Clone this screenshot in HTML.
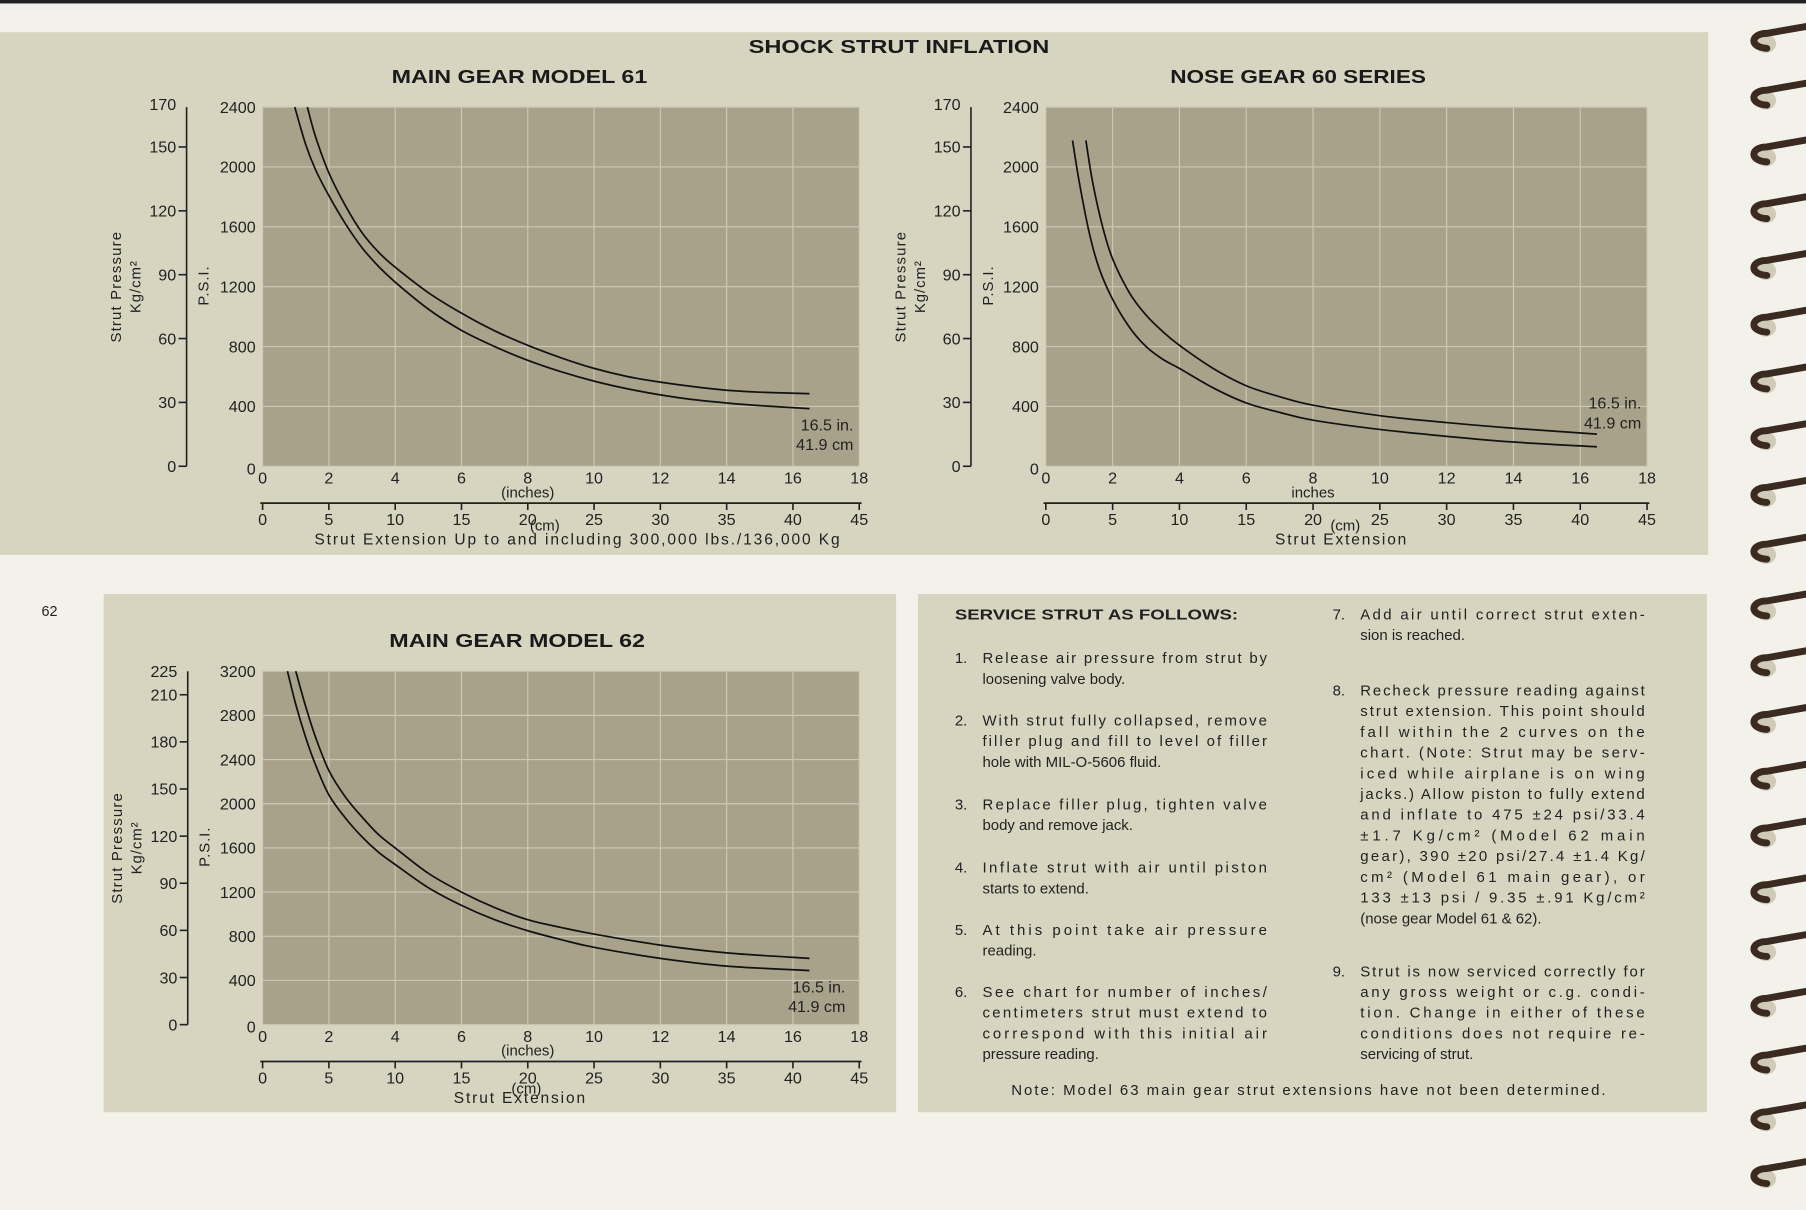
<!DOCTYPE html>
<html><head><meta charset="utf-8"><style>
html,body{margin:0;padding:0;background:#f2f1ea;}
svg{display:block;font-family:"Liberation Sans",sans-serif;}
</style></head><body>
<svg id="s" width="1806" height="1210" viewBox="0 0 1568 1051" preserveAspectRatio="none">
<rect x="0" y="0" width="1568" height="1051" fill="#f2f1ea"/>
<rect x="0" y="0" width="1568" height="3" fill="#222"/>
<rect x="0" y="28" width="1483" height="454" fill="#d7d4c0"/>
<rect x="90" y="516" width="688" height="450" fill="#d7d4c0"/>
<rect x="797" y="516" width="685" height="450" fill="#d7d4c0"/>
<text x="650" y="46" textLength="261" lengthAdjust="spacingAndGlyphs" font-size="16" font-weight="bold" fill="#1a1a1a">SHOCK STRUT INFLATION</text>
<text x="36" y="535" font-size="12.5" fill="#222">62</text>
<g id="charts"></g>
<g id="rings"></g>
<g font-size="13" fill="#222">
<text x="829" y="538" font-weight="bold" textLength="246" lengthAdjust="spacingAndGlyphs">SERVICE STRUT AS FOLLOWS:</text>
<text x="829" y="576">1.</text><text x="853" y="576" textLength="247" lengthAdjust="spacing">Release air pressure from strut by</text><text x="853" y="594">loosening valve body.</text>
<text x="829" y="630">2.</text><text x="853" y="630" textLength="247" lengthAdjust="spacing">With strut fully collapsed, remove</text><text x="853" y="648" textLength="247" lengthAdjust="spacing">filler plug and fill to level of filler</text><text x="853" y="666">hole with MIL-O-5606 fluid.</text>
<text x="829" y="703">3.</text><text x="853" y="703" textLength="247" lengthAdjust="spacing">Replace filler plug, tighten valve</text><text x="853" y="721">body and remove jack.</text>
<text x="829" y="758">4.</text><text x="853" y="758" textLength="247" lengthAdjust="spacing">Inflate strut with air until piston</text><text x="853" y="776">starts to extend.</text>
<text x="829" y="812">5.</text><text x="853" y="812" textLength="247" lengthAdjust="spacing">At this point take air pressure</text><text x="853" y="830">reading.</text>
<text x="829" y="866">6.</text><text x="853" y="866" textLength="247" lengthAdjust="spacing">See chart for number of inches/</text><text x="853" y="884" textLength="247" lengthAdjust="spacing">centimeters strut must extend to</text><text x="853" y="902" textLength="247" lengthAdjust="spacing">correspond with this initial air</text><text x="853" y="920">pressure reading.</text>
<text x="1157" y="538">7.</text><text x="1181" y="538" textLength="247" lengthAdjust="spacing">Add air until correct strut exten-</text><text x="1181" y="556">sion is reached.</text>
<text x="1157" y="604">8.</text><text x="1181" y="604" textLength="247" lengthAdjust="spacing">Recheck pressure reading against</text><text x="1181" y="622" textLength="247" lengthAdjust="spacing">strut extension. This point should</text><text x="1181" y="640" textLength="247" lengthAdjust="spacing">fall within the 2 curves on the</text><text x="1181" y="658" textLength="247" lengthAdjust="spacing">chart. (Note: Strut may be serv-</text><text x="1181" y="676" textLength="247" lengthAdjust="spacing">iced while airplane is on wing</text><text x="1181" y="694" textLength="247" lengthAdjust="spacing">jacks.) Allow piston to fully extend</text><text x="1181" y="712" textLength="247" lengthAdjust="spacing">and inflate to 475 ±24 psi/33.4</text><text x="1181" y="730" textLength="247" lengthAdjust="spacing">±1.7 Kg/cm² (Model 62 main</text><text x="1181" y="748" textLength="247" lengthAdjust="spacing">gear), 390 ±20 psi/27.4 ±1.4 Kg/</text><text x="1181" y="766" textLength="247" lengthAdjust="spacing">cm² (Model 61 main gear), or</text><text x="1181" y="784" textLength="247" lengthAdjust="spacing">133 ±13 psi / 9.35 ±.91 Kg/cm²</text><text x="1181" y="802">(nose gear Model 61 &amp; 62).</text>
<text x="1157" y="848">9.</text><text x="1181" y="848" textLength="247" lengthAdjust="spacing">Strut is now serviced correctly for</text><text x="1181" y="866" textLength="247" lengthAdjust="spacing">any gross weight or c.g. condi-</text><text x="1181" y="884" textLength="247" lengthAdjust="spacing">tion. Change in either of these</text><text x="1181" y="902" textLength="247" lengthAdjust="spacing">conditions does not require re-</text><text x="1181" y="920">servicing of strut.</text>
<text x="878" y="951" textLength="516" lengthAdjust="spacing">Note: Model 63 main gear strut extensions have not been determined.</text>
</g>
</svg>
<script>
// Chart data (inches, psi)
const inchTicks=[0,2,4,6,8,10,12,14,16,18];
const cmTicks=[0,5,10,15,20,25,30,35,40,45];
const m61Psi=[0,400,800,1200,1600,2000,2400];
const m61Kg=[0,30,60,90,120,150,170];
const m61UpperX=[1.35,1.6,2,2.5,3,3.5,4,5,6,7,8,9,10,11,12,13,14,15,16.5];
const m61UpperY=[2400,2200,1960,1740,1560,1430,1330,1160,1023,905,808,725,654,600,562,532,508,495,485];
const m61LowerX=[0.97,1.3,1.6,2,2.5,3,3.5,4,5,6,7,8,9,10,11,12,13,14,15,16.5];
const m61LowerY=[2400,2150,1980,1808,1620,1460,1335,1230,1050,908,800,708,632,569,518,477,445,423,405,385];
const noseUpperX=[1.2,1.4,1.7,2,2.5,3,3.5,4,5,6,7,8,10,12,14,16.5];
const noseUpperY=[2177,1900,1600,1385,1160,1010,900,808,655,538,465,408,338,292,254,215];
const noseLowerX=[0.8,1.0,1.3,1.6,2,2.5,3,3.5,4,5,6,7,8,10,12,14,16.5];
const noseLowerY=[2177,1900,1560,1320,1115,930,800,715,654,525,423,360,308,246,200,162,130];
const m62Psi=[0,400,800,1200,1600,2000,2400,2800,3200];
const m62Kg=[0,30,60,90,120,150,180,210,225];
const m62UpperX=[1.0,1.3,1.6,2,2.5,3,3.5,4,5,6,7,8,9,10,12,14,16.5];
const m62UpperY=[3200,2880,2600,2300,2060,1880,1720,1600,1370,1200,1060,950,880,820,720,650,600];
const m62LowerX=[0.75,1.0,1.3,1.6,2,2.5,3,3.5,4,5,6,7,8,9,10,12,14,16.5];
const m62LowerY=[3200,2900,2600,2350,2080,1870,1700,1560,1450,1240,1080,950,850,770,700,600,530,490];

const NS='http://www.w3.org/2000/svg';
const root=document.getElementById('charts');
function mk(tag,attrs,parent,txt){const e=document.createElementNS(NS,tag);for(const k in attrs)e.setAttribute(k,attrs[k]);if(txt!==undefined)e.textContent=txt;parent.appendChild(e);return e;}
function smooth(pts){let d='M'+pts[0][0]+','+pts[0][1];for(let i=0;i<pts.length-1;i++){const p0=pts[Math.max(0,i-1)],p1=pts[i],p2=pts[i+1],p3=pts[Math.min(pts.length-1,i+2)];const c1=[p1[0]+(p2[0]-p0[0])/6,p1[1]+(p2[1]-p0[1])/6],c2=[p2[0]-(p3[0]-p1[0])/6,p2[1]-(p3[1]-p1[1])/6];d+=' C'+c1+' '+c2+' '+p2;}return d;}

function chart(cfg){
  const g=mk('g',{},root);
  
  
  const X0=cfg.x0,X1=cfg.x1,Y0=cfg.y0,Y1=cfg.y1;
  const xs=v=>X0+v/18*(X1-X0);
  const xc=v=>X0+v/45*(X1-X0);
  const ys=v=>Y1-v/cfg.max*(Y1-Y0);
  const t=mk('text',{x:cfg.tx,y:Y0-21,'text-anchor':'middle','font-size':16,'font-weight':'bold',fill:'#1a1a1a',textLength:222,lengthAdjust:'spacingAndGlyphs'},g,cfg.title);
  
  
  const bg=mk('rect',{x:X0,y:Y0,width:X1-X0,height:Y1-Y0,fill:'#a9a28a'},g);
  
  
  inchTicks.forEach(v=>{const l=mk('line',{x1:xs(v),x2:xs(v),y1:Y0,y2:Y1,stroke:'#cdc8b4','stroke-width':1},g);
    
    
    const tl=mk('text',{x:xs(v),y:Y1+15,'text-anchor':'middle','font-size':14,fill:'#222'},g,String(v));
    
    });
  cfg.psi.forEach(v=>{const l=mk('line',{x1:X0,x2:X1,y1:ys(v),y2:ys(v),stroke:'#cdc8b4','stroke-width':1},g);
    
    
    const tl=mk('text',{x:X0-6,y:ys(v)+(v===0?7:5),'text-anchor':'end','font-size':14,fill:'#222'},g,String(v));
    
    });
  const KX=cfg.kx;
  const ka=mk('line',{x1:KX,x2:KX,y1:Y0,y2:Y1,stroke:'#222','stroke-width':1.4},g);
  
  
  cfg.kg.forEach((v,i)=>{const y=ys(v*cfg.ratio);
    if(i<cfg.kg.length-1){const tk=mk('line',{x1:KX-7,x2:KX,y1:y,y2:y,stroke:'#222','stroke-width':1.4},g);
      
      }
    const tl=mk('text',{x:KX-9,y:y+5,'text-anchor':'end','font-size':14,fill:'#222'},g,String(v));
    
    });
  const my=(Y0+Y1)/2;
  const yt=mk('text',{x:0,y:0,transform:`translate(${KX-57},${my}) rotate(-90)`,'text-anchor':'middle','font-size':13,fill:'#222','letter-spacing':'1'},g,'Strut Pressure');
  
  
  const yt2=mk('text',{x:0,y:0,transform:`translate(${KX-40},${my}) rotate(-90)`,'text-anchor':'middle','font-size':13,fill:'#222','letter-spacing':'0.8'},g,'Kg/cm²');
  
  
  const yt3=mk('text',{x:0,y:0,transform:`translate(${KX+19},${my-1}) rotate(-90)`,'text-anchor':'middle','font-size':13,fill:'#222','letter-spacing':'0.8'},g,'P.S.I.');
  
  
  const il=mk('text',{x:xs(8),y:Y1+27,'text-anchor':'middle','font-size':13,fill:'#222'},g,cfg.inchLabel);
  
  
  const CY=Y1+32;
  const ca=mk('line',{x1:X0-2,x2:X1+2,y1:CY,y2:CY,stroke:'#222','stroke-width':1.6},g);
  
  
  cmTicks.forEach(v=>{const tk=mk('line',{x1:xc(v),x2:xc(v),y1:CY,y2:CY+6,stroke:'#222','stroke-width':1.4},g);
    
    
    const tl=mk('text',{x:xc(v),y:CY+19,'text-anchor':'middle','font-size':14,fill:'#222'},g,String(v));
    
    });
  const cl=mk('text',{x:cfg.cmX,y:CY+cfg.cmDy,'text-anchor':'middle','font-size':13,fill:'#222'},g,'(cm)');
  
  
  const st=mk('text',{x:cfg.sx,y:CY+36,'text-anchor':'middle','font-size':13.5,fill:'#222',textLength:cfg.sw,lengthAdjust:'spacing'},g,cfg.strut);
  
  
  const a1=mk('text',{x:cfg.ax,y:cfg.ay,'text-anchor':'end','font-size':14,fill:'#222'},g,'16.5 in.');
  
  
  const a2=mk('text',{x:cfg.ax,y:cfg.ay+17,'text-anchor':'end','font-size':14,fill:'#222'},g,'41.9 cm');
  
  
  [[cfg.ux,cfg.uy,'upper-limit-curve'],[cfg.lx,cfg.ly,'lower-limit-curve']].forEach(([xa,ya,n])=>{
    const pts=xa.map((v,i)=>[xs(v),ys(ya[i])]);
    const p=mk('path',{d:smooth(pts),fill:'none',stroke:'#111','stroke-width':1.5},g);
    
    });
}
chart({name:'main-gear-61-chart',title:'MAIN GEAR MODEL 61',tx:451,x0:228,x1:746,y0:93,y1:405,max:2400,ratio:14.223,kx:162,psi:m61Psi,kg:m61Kg,inchLabel:'(inches)',cmX:473,cmDy:24,sx:501,sw:456,strut:'Strut Extension  Up to and including 300,000 lbs./136,000 Kg',ax:741,ay:374,ux:m61UpperX,uy:m61UpperY,lx:m61LowerX,ly:m61LowerY});
chart({name:'nose-gear-60-chart',title:'NOSE GEAR 60 SERIES',tx:1127,x0:908,x1:1430,y0:93,y1:405,max:2400,ratio:14.223,kx:843,psi:m61Psi,kg:m61Kg,inchLabel:'inches',cmX:1168,cmDy:24,sx:1164,sw:114,strut:'Strut Extension',ax:1425,ay:355,ux:noseUpperX,uy:noseUpperY,lx:noseLowerX,ly:noseLowerY});
chart({name:'main-gear-62-chart',title:'MAIN GEAR MODEL 62',tx:449,x0:228,x1:746,y0:583,y1:890,max:3200,ratio:14.223,kx:163,psi:m62Psi,kg:m62Kg,inchLabel:'(inches)',cmX:457,cmDy:28,sx:451,sw:114,strut:'Strut Extension',ax:734,ay:862,ux:m62UpperX,uy:m62UpperY,lx:m62LowerX,ly:m62LowerY});
const rg=document.getElementById('rings');
for(let i=0;i<21;i++){const y=33+i*49.3;
  const h=mk('ellipse',{cx:1533,cy:y+5,rx:9,ry:8,fill:'#cfcbb8'},rg);
  
  
  const r=mk('path',{d:`M1534,${y+9} C1518,${y+8} 1520,${y-4} 1534,${y-4} L1568,${y-10}`,fill:'none',stroke:'#3a2a20','stroke-width':6,'stroke-linecap':'round'},rg);
  
  }
</script>
</body></html>
